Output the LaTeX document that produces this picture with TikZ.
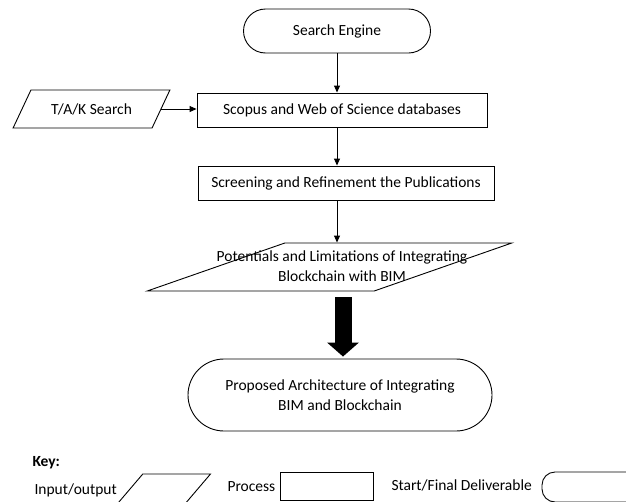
\documentclass[tikz,border=0pt]{standalone}
\usepackage{fontspec}
\setmainfont{Carlito}
\usepackage{tikz}
\usetikzlibrary{shapes.geometric,arrows.meta,positioning}

\begin{document}
\begin{tikzpicture}[x=1pt, y=-1pt,
    font=\fontsize{15.5}{20}\selectfont,
    term/.style={rectangle, draw, line width=0.9pt, rounded corners=22pt,
        minimum width=187pt, minimum height=44pt, inner sep=2pt},
    proc/.style={rectangle, draw, line width=0.9pt, inner sep=2pt},
    io/.style={trapezium, draw, line width=0.9pt, trapezium stretches=true,
        inner sep=2pt, align=center},
    arr/.style={-{Triangle[length=7pt, width=6pt]}, line width=0.9pt},
    bigarr/.style={-{Triangle[length=14pt, width=31pt]}, line width=17pt}
]
    \useasboundingbox (0,0) rectangle (626,501);
    \clip (0,0) rectangle (626,501);

    \node[term] (se) at (337,31) {Search Engine};
    \node[io, trapezium left angle=51, trapezium right angle=129,
        minimum width=157pt, minimum height=38pt] (tak) at (91.5,109) {T/A/K Search};
    \node[proc, minimum width=290pt, minimum height=34pt] (scopus) at (342,110)
        {Scopus and Web of Science databases};
    \node[proc, minimum width=296pt, minimum height=34pt] (screen) at (346,183)
        {Screening and Refinement the Publications};
    \node[io, trapezium left angle=33, trapezium right angle=147,
        minimum width=365pt, minimum height=48pt,
        label={[xshift=12.5pt, yshift=0.5pt, align=center]center:Potentials and Limitations of Integrating\\Blockchain with BIM}]
        (pot) at (329.5,267) {};
    \node[term, rounded corners=36pt, minimum width=304pt, minimum height=72pt,
        align=center] (fin) at (340,395)
        {Proposed Architecture of Integrating\\BIM and Blockchain};

    \draw[arr] (se) -- (se |- scopus.north);
    \draw[arr] (tak.east) -- (tak.east -| scopus.west);
    \draw[arr] (se |- scopus.south) -- (se |- screen.north);
    \draw[arr] (se |- screen.south) -- (se |- pot.north);
    \draw[bigarr, shorten <=6pt, shorten >=2pt] ([xshift=3pt]pot.south -| fin.north) -- ([xshift=3pt]fin.north);

    % key
    \node[anchor=west, font=\fontsize{15.5}{20}\selectfont\bfseries] (key) at (29,463) {Key:};
    \node[anchor=west] (kio) at (31,490) {Input/output};
    \node[io, trapezium left angle=56, trapezium right angle=124,
        minimum width=95pt, minimum height=32pt] (kiobox) at (163,490) {};
    \node[anchor=west] (kproc) at (224,487) {Process};
    \node[proc, minimum width=93pt, minimum height=28pt] (kprocbox) at (326.5,486) {};
    \node[anchor=west] (kterm) at (388,485) {Start/Final Deliverable};
    \node[term, rounded corners=13pt, minimum width=110pt, minimum height=30pt]
        (ktermbox) at (597,487) {};
\end{tikzpicture}
\end{document}
